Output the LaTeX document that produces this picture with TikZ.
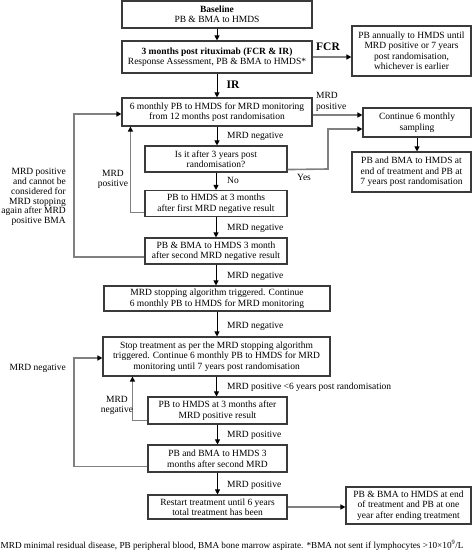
\documentclass[tikz,border=0pt]{standalone}
\usepackage{fontspec}
\setmainfont{Liberation Serif}
\usetikzlibrary{arrows.meta,calc}
\definecolor{boxc}{HTML}{3A3A3A}
\definecolor{linkc}{HTML}{808080}
\newcommand{\fsz}{\fontsize{9.5}{10.5}\selectfont}
\begin{document}
\begin{tikzpicture}[x=1pt,y=-1pt,
  box/.style={draw=boxc, line width=1.1pt, align=center, inner sep=1pt, font=\fsz},
  lbl/.style={font=\fsz, inner sep=0pt, align=center},
  big/.style={font=\fontsize{11.5}{12}\selectfont\bfseries, inner sep=0pt},
  mainarrow/.style={draw=black, line width=0.9pt, -{Triangle[length=5pt,width=5pt]}},
  grayarrow/.style={draw=linkc, line width=1.6pt, -{Triangle[length=5pt,width=5pt,color=black]}}]
\useasboundingbox (0,0) rectangle (473,551);

\node[box, minimum width=190, minimum height=27] (b1) at (217,14.5) {\textbf{Baseline}\\PB \& BMA to HMDS};
\node[box, minimum width=190, minimum height=32] (b2) at (217,57) {\textbf{3 months post rituximab (FCR \& IR)}\\Response Assessment, PB \& BMA to HMDS*};
\node[box, minimum width=119, minimum height=50] (fcr) at (411.5,51) {PB annually to HMDS until\\MRD positive or 7 years\\post randomisation,\\whichever is earlier};
\node[box, minimum width=190, minimum height=28] (b3) at (217,112) {6 monthly PB to HMDS for MRD monitoring\\from 12 months post randomisation};
\node[box, minimum width=108, minimum height=29] (cont) at (417,122.5) {Continue 6 monthly\\sampling};
\node[box, minimum width=119, minimum height=40] (end1) at (411.5,172) {PB and BMA to HMDS at\\end of treatment and PB at\\7 years post randomisation};
\node[box, minimum width=142, minimum height=26] (b4) at (216,159) {Is it after 3 years post\\randomisation?};
\node[box, minimum width=142, minimum height=26] (b5) at (216,203.5) {PB to HMDS at 3 months\\after first MRD negative result};
\node[box, minimum width=142, minimum height=26] (b6) at (216,251) {PB \& BMA to HMDS 3 month\\after second MRD negative result};
\node[box, minimum width=226, minimum height=25] (b7) at (217,298.5) {MRD stopping algorithm triggered. Continue\\6 monthly PB to HMDS for MRD monitoring};
\node[box, minimum width=227, minimum height=39] (b8) at (216.5,356.5) {Stop treatment as per the MRD stopping algorithm\\triggered. Continue 6 monthly PB to HMDS for MRD\\monitoring until 7 years post randomisation};
\node[box, minimum width=139, minimum height=27] (b9) at (217.5,410.5) {PB to HMDS at 3 months after\\MRD positive result};
\node[box, minimum width=139, minimum height=27] (b10) at (217.5,458.5) {PB and BMA to HMDS 3\\months after second MRD};
\node[box, minimum width=139, minimum height=24] (b11) at (217.5,507) {Restart treatment until 6 years\\total treatment has been};
\node[box, minimum width=125, minimum height=37] (end2) at (408.5,505.5) {PB \& BMA to HMDS at end\\of treatment and PB at one\\year after ending treatment};

% main flow
\draw[mainarrow] (b1.south) -- (b1.south |- b2.north);
\draw[mainarrow] (b2.south) -- (b2.south |- b3.north);
\draw[mainarrow] (b3.south) -- (b3.south |- b4.north);
\draw[mainarrow] (b4.south) -- (b4.south |- b5.north);
\draw[mainarrow] (b5.south) -- (b5.south |- b6.north);
\draw[mainarrow] (b6.south) -- (b6.south |- b7.north);
\draw[mainarrow] (b7.south) -- (b7.south |- b8.north);
\draw[mainarrow] (b8.south) -- (b8.south |- b9.north);
\draw[mainarrow] (b9.south) -- (b9.south |- b10.north);
\draw[mainarrow] (b10.south) -- (b10.south |- b11.north);
\draw[mainarrow] (cont.south) -- (cont.south |- end1.north);

% gray links
\draw[grayarrow] (b2.east) -- (b2.east -| fcr.west);
\draw[grayarrow] ($(b3.east)+(0,3)$) -- ($(b3.east -| cont.west)+(0,3)$);
\draw[grayarrow] ($(b4.south east)+(0,-3)$) -- (328,169) -- (328,129) -- ($(cont.west)+(0,6.5)$);
\draw[grayarrow] ($(b6.west)+(0,6)$) -- (74,257) -- (74,114) -- ($(b3.west)+(0,2)$);
\draw[grayarrow] ($(b5.west)+(0,9)$) -| ($(b3.south west)+(9,0)$);
\draw[grayarrow] ($(b9.west)+(0,10)$) -| ($(b8.south west)+(30,0)$);
\draw[grayarrow] ($(b10.west)+(0,8)$) -- (74,466.5) -- (74,358) -- ($(b8.west)+(0,1.5)$);
\draw[grayarrow] (b11.east) -- (b11.east -| end2.west);

% labels
\node[big] (lfcr) at (328,47) {FCR};
\node[big] (lir) at (233,85) {IR};
\node[lbl, anchor=west, align=left] (lpos1) at (316,102) {MRD\\positive};
\node[lbl, anchor=west] (lneg1) at (227,136) {MRD negative};
\node[lbl, anchor=west] (lno) at (227,180) {No};
\node[lbl] (lyes) at (304,177) {Yes};
\node[lbl] (lpos2) at (113,179.5) {MRD\\positive};
\node[lbl, anchor=east, align=right, font=\fontsize{9.5}{9.8}\selectfont] (lleft) at (66,197) {MRD positive\\and cannot be\\considered for\\MRD stopping\\again after MRD\\positive BMA};
\node[lbl, anchor=west] (lneg2) at (227,228) {MRD negative};
\node[lbl, anchor=west] (lneg3) at (227,276) {MRD negative};
\node[lbl, anchor=west] (lneg4) at (227,326) {MRD negative};
\node[lbl, anchor=east] (lneg5) at (66,368.5) {MRD negative};
\node[lbl, anchor=west] (lpos3) at (227,387) {MRD positive <6 years post randomisation};
\node[lbl] (lneg6) at (117,405.5) {MRD\\negative};
\node[lbl, anchor=west] (lpos4) at (227,435) {MRD positive};
\node[lbl, anchor=west] (lpos5) at (227,485) {MRD positive};
\node[lbl, anchor=west, font=\fontsize{9.2}{10}\selectfont] (foot) at (0.5,545) {MRD minimal residual disease, PB peripheral blood, BMA bone marrow aspirate. *BMA not sent if lymphocytes >10×10\textsuperscript{9}/L};
\end{tikzpicture}
\end{document}
